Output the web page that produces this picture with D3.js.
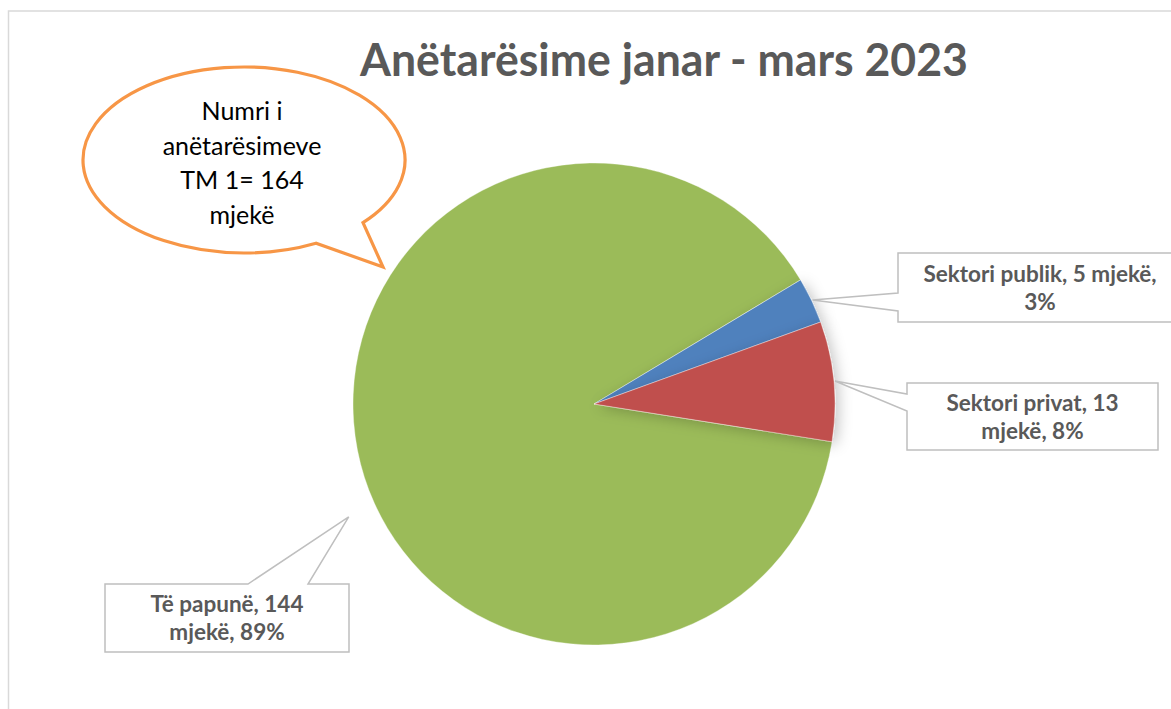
<!DOCTYPE html>
<html>
<head>
<meta charset="utf-8">
<script src="https://cdn.jsdelivr.net/npm/d3@7"></script>
<style>
  body { margin: 0; background: #fff; }
  svg { display: block; }
  .label-text { font-family: Lato, "Open Sans", sans-serif; font-weight: 700; fill: #595959; }
  .bubble-text { font-family: Lato, "Open Sans", sans-serif; fill: #000; }
</style>
</head>
<body>
<svg id="chart"></svg>
<script>
// chart data
const categories = ['Sektori publik', 'Sektori privat', 'Të papunë'];
const values = [5, 13, 144];
const sliceColors = ['#4F81BD', '#C0504D', '#9BBB59'];
const titleText = 'Anëtarësime janar - mars 2023';
const bubbleLines = ['Numri i', 'anëtarësimeve', 'TM 1= 164', 'mjekë'];
const unit = 'mjekë';

const width = 1171, height = 709;
const center = {x: 594, y: 404};
const radius = 241;
const startDeg = 59;

// label boxes (layout only): box rect, side where the wedge opens, wedge span
const labelLayout = [
  {x0: 898, y0: 253, x1: 1182, y1: 322, side: 'left', a: 293, b: 311, tipR: radius + 1},
  {x0: 907, y0: 383, x1: 1158, y1: 450, side: 'left', a: 394, b: 411, tipR: radius + 1},
  {x0: 105, y0: 584, x1: 349, y1: 652, side: 'top', a: 248, b: 308, tipR: radius + 29, tipDeg: 245.3}
];

const svg = d3.select('#chart')
  .attr('width', width)
  .attr('height', height);

// outer chart border
svg.append('rect')
  .attr('x', 8.5).attr('y', 11)
  .attr('width', width + 20).attr('height', height + 20)
  .attr('fill', 'none')
  .attr('stroke', '#d9d9d9')
  .attr('stroke-width', 1.5);

const defs = svg.append('defs');
const shadow = defs.append('filter')
  .attr('id', 'slice-shadow')
  .attr('x', '-50%').attr('y', '-50%')
  .attr('width', '200%').attr('height', '200%');
shadow.append('feGaussianBlur').attr('in', 'SourceAlpha').attr('stdDeviation', 7).attr('result', 'blur');
shadow.append('feOffset').attr('in', 'blur').attr('dx', 4).attr('dy', 3).attr('result', 'off');
shadow.append('feFlood').attr('flood-color', '#000').attr('flood-opacity', 0.22);
shadow.append('feComposite').attr('in2', 'off').attr('operator', 'in');
const merge = shadow.append('feMerge');
merge.append('feMergeNode');
merge.append('feMergeNode').attr('in', 'SourceGraphic');

// title
const title = svg.append('text')
  .attr('class', 'label-text')
  .attr('x', 664)
  .attr('y', 76)
  .attr('text-anchor', 'middle')
  .style('font-size', '45px')
  .text(titleText);
title.attr('textLength', 608).attr('lengthAdjust', 'spacingAndGlyphs');

// pie
const total = d3.sum(values);
const data = categories.map((c, i) => ({name: c, value: values[i], color: sliceColors[i]}));
const start = startDeg * Math.PI / 180;
const pie = d3.pie().value(d => d.value).sort(null)
  .startAngle(start).endAngle(start + 2 * Math.PI);
const arcs = pie(data);
const arc = d3.arc().innerRadius(0).outerRadius(radius);

const pieG = svg.append('g')
  .attr('transform', `translate(${center.x},${center.y})`);

// green slice first, then the small ones on top with their shadow
pieG.selectAll('.slice')
  .data([arcs[2], arcs[0], arcs[1]])
  .join('path')
  .attr('class', 'slice')
  .attr('d', arc)
  .attr('fill', d => d.data.color)
  .attr('stroke', '#ffffff')
  .attr('stroke-opacity', 0.6)
  .attr('stroke-width', 0.6)
  .attr('filter', d => d.index < 2 ? 'url(#slice-shadow)' : null);

// data label callouts
const pct = d3.format('.0%');
arcs.forEach((d, i) => {
  const L = labelLayout[i];
  const ang = L.tipDeg != null ? L.tipDeg * Math.PI / 180 : (d.startAngle + d.endAngle) / 2;
  const p = d3.pointRadial(ang, L.tipR);
  const tip = [center.x + p[0], center.y + p[1]];
  let pts;
  if (L.side === 'left') {
    pts = [[L.x0, L.y0], [L.x1, L.y0], [L.x1, L.y1], [L.x0, L.y1], [L.x0, L.b], tip, [L.x0, L.a]];
  } else {
    pts = [[L.x0, L.y0], [L.a, L.y0], tip, [L.b, L.y0], [L.x1, L.y0], [L.x1, L.y1], [L.x0, L.y1]];
  }
  svg.append('path')
    .attr('d', d3.line()(pts) + 'Z')
    .attr('fill', '#fff')
    .attr('stroke', '#bfbfbf')
    .attr('stroke-width', 1.5)
    .attr('stroke-linejoin', 'miter');

  const v = d.data.value;
  // wrap like Excel does in these boxes
  let lines;
  if (i === 0) lines = [`${d.data.name}, ${v} ${unit},`, pct(v / total)];
  else lines = [`${d.data.name}, ${v}`, `${unit}, ${pct(v / total)}`];

  const cx = (L.x0 + L.x1) / 2;
  const cy = (L.y0 + L.y1) / 2;
  const lh = 28;
  svg.append('text')
    .attr('class', 'label-text')
    .attr('text-anchor', 'middle')
    .style('font-size', '22.5px')
    .selectAll('tspan')
    .data(lines)
    .join('tspan')
    .attr('x', cx)
    .attr('y', (t, j) => cy + (j - (lines.length - 1) / 2) * lh + 8)
    .text(t => t);
});

// speech bubble
const bub = {cx: 244, cy: 160, rx: 161, ry: 93};
const bubbleTip = [383, 267];
const angAt = x => Math.sqrt(1 - Math.pow((x - bub.cx) / bub.rx, 2));
const b1 = [316, bub.cy + bub.ry * angAt(316)];
const b2 = [363, bub.cy + bub.ry * angAt(363)];
svg.append('path')
  .attr('d', `M${b1[0]},${b1[1]} A${bub.rx},${bub.ry} 0 1 1 ${b2[0]},${b2[1]} L${bubbleTip[0]},${bubbleTip[1]} Z`)
  .attr('fill', '#fff')
  .attr('stroke', '#F79646')
  .attr('stroke-width', 3.2)
  .attr('stroke-linejoin', 'miter');

svg.append('text')
  .attr('class', 'bubble-text')
  .attr('text-anchor', 'middle')
  .style('font-size', '25px')
  .selectAll('tspan')
  .data(bubbleLines)
  .join('tspan')
  .attr('x', 242)
  .attr('y', (t, j) => 120 + j * 34.5)
  .text(t => t);
</script>
</body>
</html>
